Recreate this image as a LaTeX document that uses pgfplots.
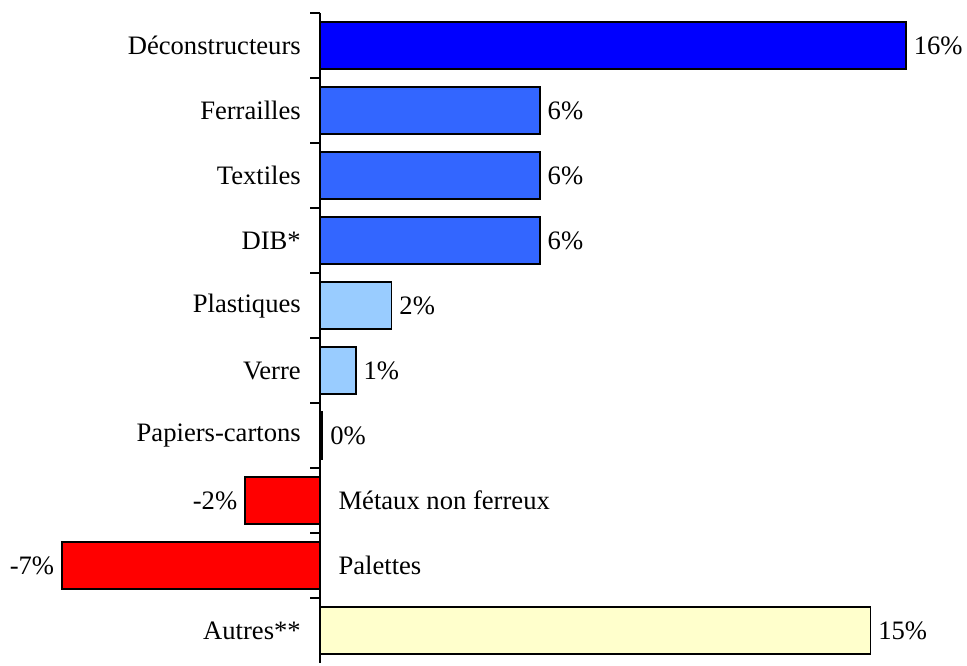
\documentclass[border=0pt]{standalone}
\usepackage{pgfplots}
\pgfplotsset{compat=1.18}
\usepackage{fontspec}
\setmainfont{Liberation Serif}
\definecolor{cDark}{HTML}{0000FF}
\definecolor{cMid}{HTML}{3366FF}
\definecolor{cLight}{HTML}{99CCFF}
\definecolor{cRed}{HTML}{FF0000}
\definecolor{cYel}{HTML}{FFFFCC}
\begin{document}
\fontsize{13.3}{16}\selectfont
\begin{tikzpicture}
\begin{axis}[
  scale only axis, width=421.8pt, height=325pt,
  xmin=-7.05, xmax=16, ymin=-0.5, ymax=9.5, y dir=reverse,
  axis x line=none, axis y line*=middle,
  xbar, bar width=23.5pt, bar shift=0pt,
  ytick={0,...,9},
  yticklabels={Déconstructeurs,Ferrailles,Textiles,DIB*,Plastiques,Verre,Papiers-cartons,{},{},Autres**},
  yticklabel style={anchor=east, inner sep=0pt, xshift=-9.5pt, font=\fontsize{13.3}{16}\selectfont},
  major tick length=0pt,
  extra y ticks={-0.5,0.5,1.5,2.5,3.5,4.5,5.5,6.5,7.5,8.5},
  extra y tick labels={},
  extra y tick style={major tick length=5pt, tick align=center, tick style={xshift=-2.5pt, line width=1pt, black}},
  clip=false,
  point meta=explicit symbolic,
  nodes near coords={\pgfplotspointmeta\%},
  every node near coord/.append style={anchor=west, inner sep=3.5pt, font=\fontsize{13.3}{16}\selectfont, black},
  axis line style={line width=1pt, black},
]
\addplot[fill=cDark, draw=black, line width=0.9pt] coordinates {(16,0) [16]};
\addplot[fill=cMid, draw=black, line width=0.9pt] coordinates {(6,1) [6] (6,2) [6] (6,3) [6]};
\addplot[fill=cLight, draw=black, line width=0.9pt] coordinates {(1.95,4) [2] (0.97,5) [1] (0.06,6) [0]};
\addplot[fill=cRed, draw=black, line width=0.9pt, every node near coord/.append style={anchor=east}] coordinates {(-2.05,7) [-2] (-7.05,8) [-7]};
\addplot[fill=cYel, draw=black, line width=0.9pt] coordinates {(15.03,9) [15]};
\node[anchor=west, inner sep=0pt, xshift=9pt] at (axis cs:0,7) {Métaux non ferreux};
\node[anchor=west, inner sep=0pt, xshift=9pt] at (axis cs:0,8) {Palettes};
\end{axis}
\pgfresetboundingbox
\path ([xshift=-31pt,yshift=6.5pt]current axis.north west) rectangle ([xshift=30.5pt,yshift=-1pt]current axis.south east);
\end{tikzpicture}
\end{document}
